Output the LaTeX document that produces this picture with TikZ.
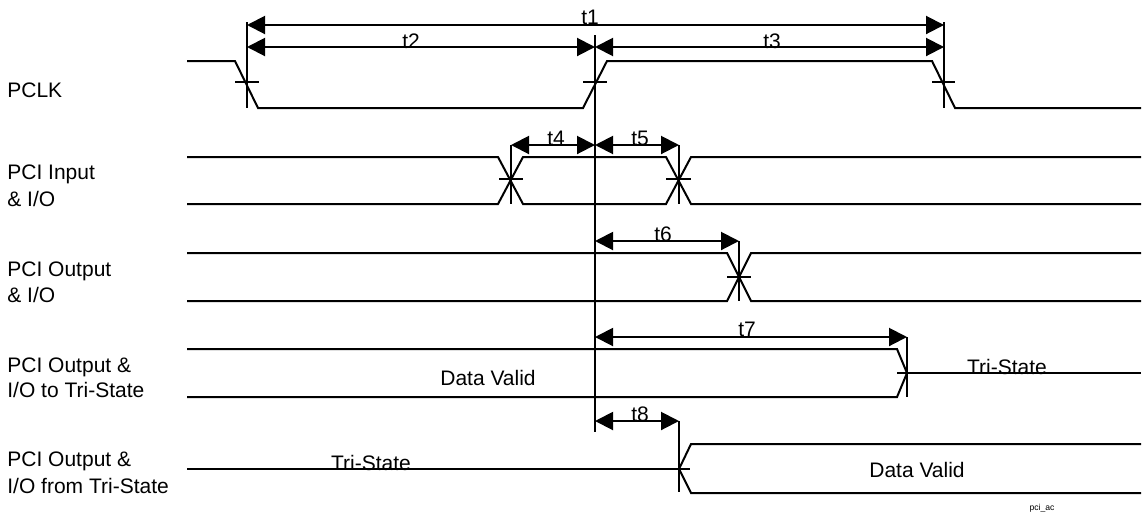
\documentclass[tikz,border=0pt]{standalone}
\usepackage{fontspec}
\setmainfont{Liberation Sans}
\usetikzlibrary{arrows.meta}
\tikzset{
  sig/.style={line width=1pt},
  tickline/.style={line width=1pt},
  dimline/.style={line width=1pt,{Triangle[length=9pt,width=9pt]}-{Triangle[length=9pt,width=9pt]}},
  signame/.style={anchor=base west,inner sep=0pt,align=left,font=\fontsize{10.5}{13.5}\selectfont},
  tlbl/.style={anchor=base,inner sep=0pt,font=\fontsize{10.5}{12}\selectfont},
  state/.style={anchor=base,inner sep=0pt,font=\fontsize{10.5}{12}\selectfont},
}
\begin{document}
\begin{tikzpicture}[x=0.5pt,y=-0.5pt]
\useasboundingbox (0,0) rectangle (1143,531);
% signal names
\node[signame] (nclk) at (7,97) {PCLK};
\node[signame] (nin1) at (7,179) {PCI Input};
\node[signame] (nin2) at (7,206) {\& I/O};
\node[signame] (nout1) at (7,276) {PCI Output};
\node[signame] (nout2) at (7,302) {\& I/O};
\node[signame] (nto1) at (7,372) {PCI Output \&};
\node[signame] (nto2) at (7,397) {I/O to Tri-State};
\node[signame] (nfr1) at (7,466) {PCI Output \&};
\node[signame] (nfr2) at (7,493) {I/O from Tri-State};
% PCLK
\draw[sig] (187,61) -- (235,61) -- (258,108) -- (583,108) -- (607,61) -- (932,61) -- (955,108) -- (1141,108);
\draw[tickline] (235,82) -- (259,82);
\draw[tickline] (583,82) -- (607,82);
\draw[tickline] (932,82) -- (955,82);
\coordinate (ca) at (247,25);
\coordinate (cb) at (944,25);
\coordinate (cc) at (247,47);
\coordinate (cd) at (595,47);
\coordinate (ce) at (944,47);
\draw[tickline] (247,22) -- (247,108);
\draw[tickline] (944,22) -- (944,108);
\draw[tickline] (595,35) -- (595,432);
\draw[dimline] (ca) -- (cb);
\draw[dimline] (cc) -- (cd);
\draw[dimline] (cd) -- (ce);
\node[tlbl] (lt1) at (590,24) {t1};
\node[tlbl] (lt2) at (411,48) {t2};
\node[tlbl] (lt3) at (772,48) {t3};
% PCI Input
\draw[sig] (187,157) -- (498,157) -- (523,204) -- (666,204) -- (691,157) -- (1141,157);
\draw[sig] (187,204) -- (498,204) -- (523,157) -- (666,157) -- (691,204) -- (1141,204);
\draw[tickline] (499,179) -- (523,179);
\draw[tickline] (666,179) -- (691,179);
\draw[tickline] (511,145) -- (511,204);
\draw[tickline] (679,145) -- (679,204);
\coordinate (da) at (511,145);
\coordinate (db) at (595,145);
\coordinate (dc) at (679,145);
\draw[dimline] (da) -- (db);
\draw[dimline] (db) -- (dc);
\node[tlbl] (lt4) at (556,145) {t4};
\node[tlbl] (lt5) at (640,145) {t5};
% PCI Output
\draw[sig] (187,253) -- (727,253) -- (751,301) -- (1141,301);
\draw[sig] (187,301) -- (727,301) -- (751,253) -- (1141,253);
\draw[tickline] (727,277) -- (751,277);
\draw[tickline] (739,241) -- (739,301);
\coordinate (ea) at (595,241);
\coordinate (eb) at (739,241);
\draw[dimline] (ea) -- (eb);
\node[tlbl] (lt6) at (663,241) {t6};
% PCI Output to Tri-State
\draw[sig] (187,349) -- (897,349) -- (907,373) -- (897,397) -- (187,397);
\draw[sig] (897,373) -- (1141,373);
\draw[tickline] (907,337) -- (907,397);
\coordinate (fa) at (595,337);
\coordinate (fb) at (907,337);
\draw[dimline] (fa) -- (fb);
\node[tlbl] (lt7) at (747,336) {t7};
\node[state] (dv1) at (488,385) {Data Valid};
\node[state] (ts1) at (1007,374) {Tri-State};
% PCI Output from Tri-State
\draw[sig] (187,469) -- (690,469);
\draw[sig] (1141,444) -- (691,444) -- (679,469) -- (691,493) -- (1141,493);
\draw[tickline] (679,421) -- (679,492);
\coordinate (ga) at (595,421);
\coordinate (gb) at (679,421);
\draw[dimline] (ga) -- (gb);
\node[tlbl] (lt8) at (640,421) {t8};
\node[state] (ts2) at (371,470) {Tri-State};
\node[state] (dv2) at (917,477) {Data Valid};
% figure tag
\node[anchor=base,inner sep=0pt,font=\fontsize{4.3}{5}\selectfont] (tag) at (1042,510) {pci\_ac};
\end{tikzpicture}
\end{document}
